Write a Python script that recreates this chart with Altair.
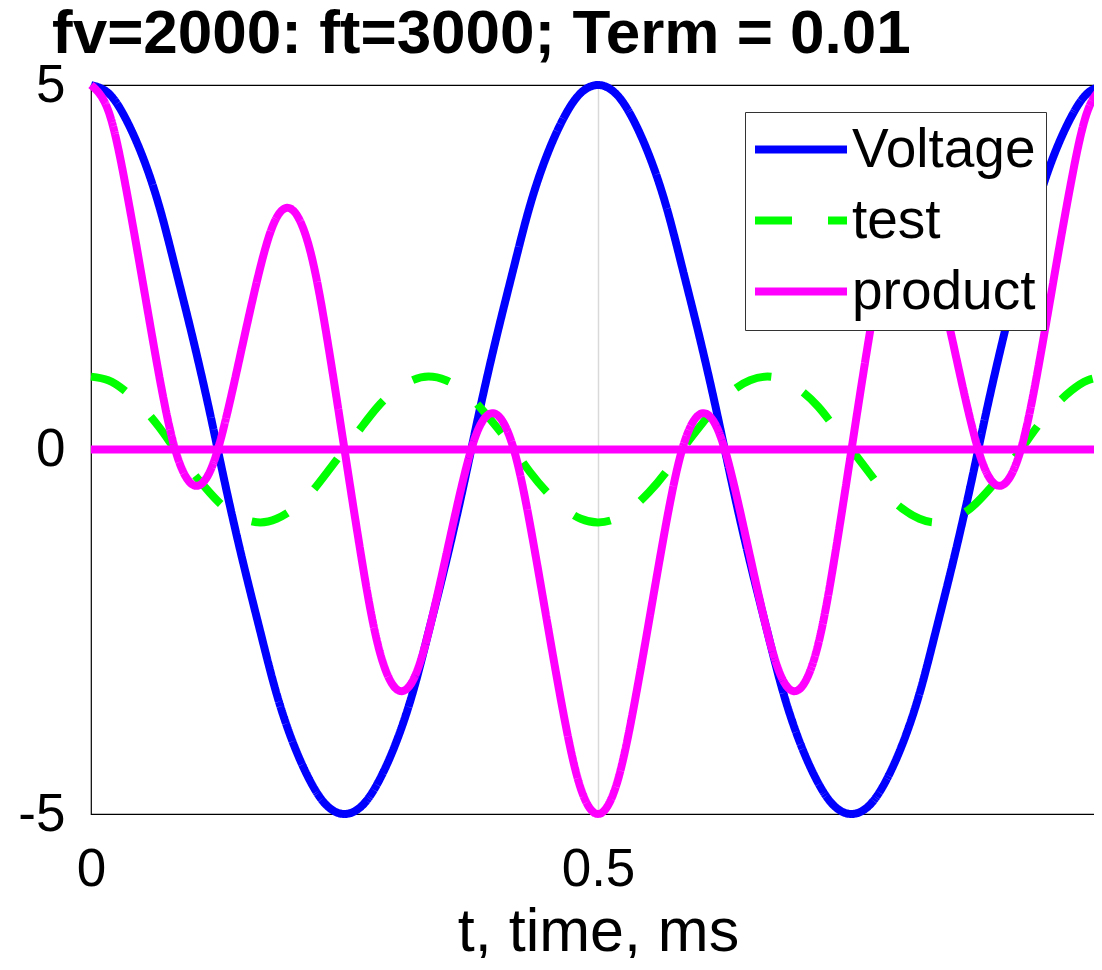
import altair as alt
import pandas as pd

# sample times (ms)
t_ms = [0.000, 0.017, 0.033, 0.050, 0.067, 0.083, 0.100, 0.117, 0.133, 0.150,
        0.167, 0.183, 0.200, 0.217, 0.233, 0.250, 0.267, 0.283, 0.300, 0.317,
        0.333, 0.350, 0.367, 0.383, 0.400, 0.417, 0.433, 0.450, 0.467, 0.483,
        0.500, 0.517, 0.533, 0.550, 0.567, 0.583, 0.600, 0.617, 0.633, 0.650,
        0.667, 0.683, 0.700, 0.717, 0.733, 0.750, 0.767, 0.783, 0.800, 0.817,
        0.833, 0.850, 0.867, 0.883, 0.900, 0.917, 0.933, 0.950, 0.967, 0.983,
        1.000]

voltage = [5, 4.89, 4.57, 4.05, 3.35, 2.5, 1.55, 0.52, -0.52, -1.55,
           -2.5, -3.35, -4.05, -4.57, -4.89, -5, -4.89, -4.57, -4.05, -3.35,
           -2.5, -1.55, -0.52, 0.52, 1.55, 2.5, 3.35, 4.05, 4.57, 4.89,
           5, 4.89, 4.57, 4.05, 3.35, 2.5, 1.55, 0.52, -0.52, -1.55,
           -2.5, -3.35, -4.05, -4.57, -4.89, -5, -4.89, -4.57, -4.05, -3.35,
           -2.5, -1.55, -0.52, 0.52, 1.55, 2.5, 3.35, 4.05, 4.57, 4.89,
           5]

test = [1, 0.95, 0.81, 0.59, 0.31, 0, -0.31, -0.59, -0.81, -0.95,
        -1, -0.95, -0.81, -0.59, -0.31, 0, 0.31, 0.59, 0.81, 0.95,
        1, 0.95, 0.81, 0.59, 0.31, 0, -0.31, -0.59, -0.81, -0.95,
        -1, -0.95, -0.81, -0.59, -0.31, 0, 0.31, 0.59, 0.81, 0.95,
        1, 0.95, 0.81, 0.59, 0.31, 0, -0.31, -0.59, -0.81, -0.95,
        -1, -0.95, -0.81, -0.59, -0.31, 0, 0.31, 0.59, 0.81, 0.95,
        1]

product = [5, 4.65, 3.70, 2.38, 1.03, 0, -0.48, -0.31, 0.42, 1.47,
           2.5, 3.18, 3.27, 2.68, 1.51, 0, -1.51, -2.68, -3.27, -3.18,
           -2.5, -1.47, -0.42, 0.31, 0.48, 0, -1.03, -2.38, -3.70, -4.65,
           -5, -4.65, -3.70, -2.38, -1.03, 0, 0.48, 0.31, -0.42, -1.47,
           -2.5, -3.18, -3.27, -2.68, -1.51, 0, 1.51, 2.68, 3.27, 3.18,
           2.5, 1.47, 0.42, -0.31, -0.48, 0, 1.03, 2.38, 3.70, 4.65,
           5]

term_t = [0, 1]
term_v = [0, 0]

series_names = ["Voltage", "test", "product"]
series_colors = ["#0000FF", "#00FF00", "#FF00FF"]
series_dash = [[1, 0], [38, 36], [1, 0]]

rows = []
for name, vals in zip(series_names, [voltage, test, product]):
    for tt, vv in zip(t_ms, vals):
        rows.append({"t": tt, "v": vv, "series": name})
df = pd.DataFrame(rows)
term_df = pd.DataFrame({"t": term_t, "v": term_v})

FONT = "Liberation Sans"

legend = alt.Legend(
    title=None, orient="none", legendX=654, legendY=27,
    symbolType="stroke", symbolSize=8649, symbolStrokeWidth=8,
    symbolOffset=-5,
    labelFontSize=55, labelFont=FONT, labelColor="black", labelOffset=1,
    labelLimit=500,
    rowPadding=15, padding=10, clipHeight=55,
    strokeColor="#333333", fillColor="white",
)

xs = alt.X("t:Q", scale=alt.Scale(domain=[0, 1], nice=False, zero=False),
           axis=alt.Axis(values=[0, 0.5, 1], format="~g", title="t, time, ms",
                         titleFontSize=61, titleFont=FONT, titleFontWeight="normal",
                         titleColor="black", titlePadding=6,
                         labelFontSize=53, labelFont=FONT, labelColor="black",
                         labelPadding=29, labelFlush=False, labelOverlap=False,
                         labelBound=False,
                         ticks=False, domain=False, grid=True,
                         gridColor=alt.condition("datum.value == 0.5",
                                                 alt.value("#d9d9d9"),
                                                 alt.value("transparent")),
                         gridWidth=1.5))
ys = alt.Y("v:Q", scale=alt.Scale(domain=[-5, 5], nice=False, zero=False),
           axis=alt.Axis(values=[-5, 0, 5], labelExpr="'' + datum.value",
                         title=None, labelFontSize=53, labelFont=FONT,
                         labelColor="black", labelPadding=26, labelOverlap=False,
                         ticks=False, domain=False, grid=False))
color = alt.Color("series:N", scale=alt.Scale(domain=series_names, range=series_colors),
                  legend=legend)
dash = alt.StrokeDash("series:N", scale=alt.Scale(domain=series_names, range=series_dash),
                      legend=legend)

layers = []
for name in series_names:
    layers.append(
        alt.Chart(df).transform_filter(alt.datum.series == name)
        .mark_line(strokeWidth=8, interpolate="natural", strokeCap="butt")
        .encode(x=xs, y=ys, color=color, strokeDash=dash)
    )

zero_line = alt.Chart(term_df).mark_line(strokeWidth=8, color="#FF00FF").encode(
    x="t:Q", y="v:Q"
)

chart = alt.layer(*layers, zero_line).properties(
    width=1014, height=729,
    autosize=alt.AutoSizeParams(type="none"),
    padding={"left": 83, "top": 77, "right": -11, "bottom": 144},
    title=alt.TitleParams(
        "fv=2000: ft=3000; Term = 0.01", anchor="start", frame="group",
        dx=-39, dy=21, fontSize=62, font=FONT, fontWeight="bold", color="black",
        offset=14,
    ),
).configure_view(stroke="black", strokeWidth=1.2)

chart.save("out.html", embed_options={"renderer": "svg", "actions": False})
